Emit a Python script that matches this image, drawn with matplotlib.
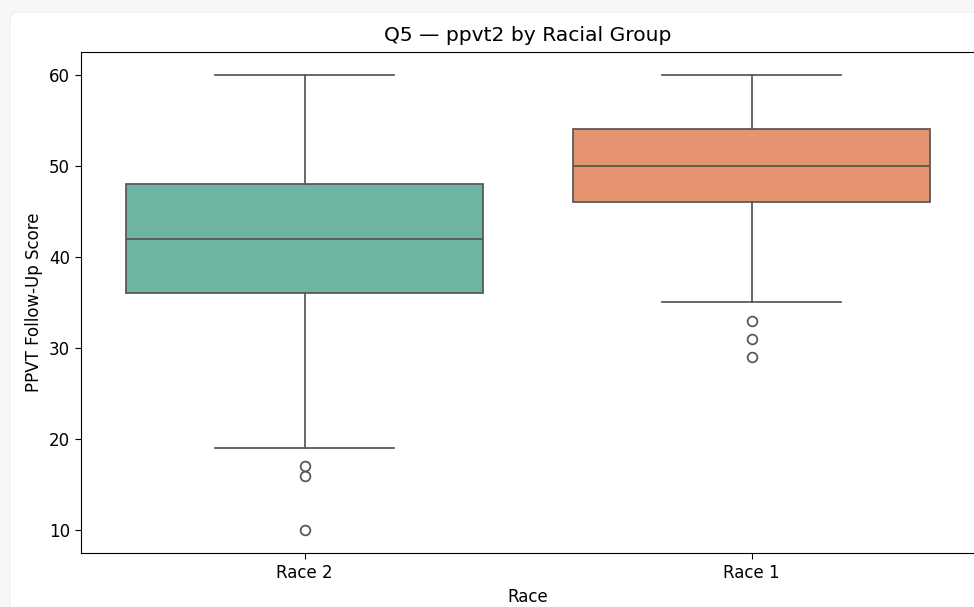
import matplotlib.pyplot as plt
from matplotlib.patches import FancyBboxPatch

groups = ["Race 2", "Race 1"]
medians = [42, 50]
q1 = [36, 46]
q3 = [48, 54]
whislo = [19, 35]
whishi = [60, 60]
outliers = [[17, 16, 10], [33, 31, 29]]

palette = ["#6eb4a2", "#e5946f"]
line_color = "#555555"

W, H = 974, 607
fig = plt.figure(figsize=(W / 100, H / 100), dpi=100)
fig.patch.set_facecolor("#f7f7f8")

# white card the plot sits on (pixel coords, origin bottom-left)
card = FancyBboxPatch((10, -60), 1000, H - 12 + 60,
                      boxstyle="round,pad=0,rounding_size=8",
                      transform=None, facecolor="white", edgecolor="#eeeeee",
                      linewidth=0.8, zorder=-10)
fig.patches.append(card)

ax = fig.add_axes([81 / W, 1 - 553 / H, 894 / W, 501 / H])
ax.set_facecolor("white")

stats = []
for i, name in enumerate(groups):
    stats.append(dict(label=name, med=medians[i], q1=q1[i], q3=q3[i],
                      whislo=whislo[i], whishi=whishi[i], fliers=outliers[i]))

bp = ax.bxp(stats, positions=range(len(groups)), widths=0.8, patch_artist=True,
            boxprops=dict(edgecolor=line_color, linewidth=1.25),
            medianprops=dict(color=line_color, linewidth=1.25),
            whiskerprops=dict(color=line_color, linewidth=1.25),
            capprops=dict(color=line_color, linewidth=1.25),
            flierprops=dict(marker="o", markerfacecolor="none",
                            markeredgecolor=line_color, markersize=7,
                            markeredgewidth=1.25))
for patch, col in zip(bp["boxes"], palette):
    patch.set_facecolor(col)
for cap in bp["caps"]:
    mid = cap.get_xdata().mean()
    cap.set_xdata([mid - 0.2, mid + 0.2])

ax.set_xlim(-0.5, 1.5)
ax.set_ylim(7.5, 62.5)
ax.set_yticks([10, 20, 30, 40, 50, 60])
ax.spines["right"].set_visible(False)
ax.tick_params(labelsize=12, length=4.5)
ax.set_xlabel("Race", fontsize=12)
ax.set_ylabel("PPVT Follow-Up Score", fontsize=12)
ax.set_title("Q5 — ppvt2 by Racial Group", fontsize=14.6, pad=8)

fig.savefig("out.png", dpi=100)
